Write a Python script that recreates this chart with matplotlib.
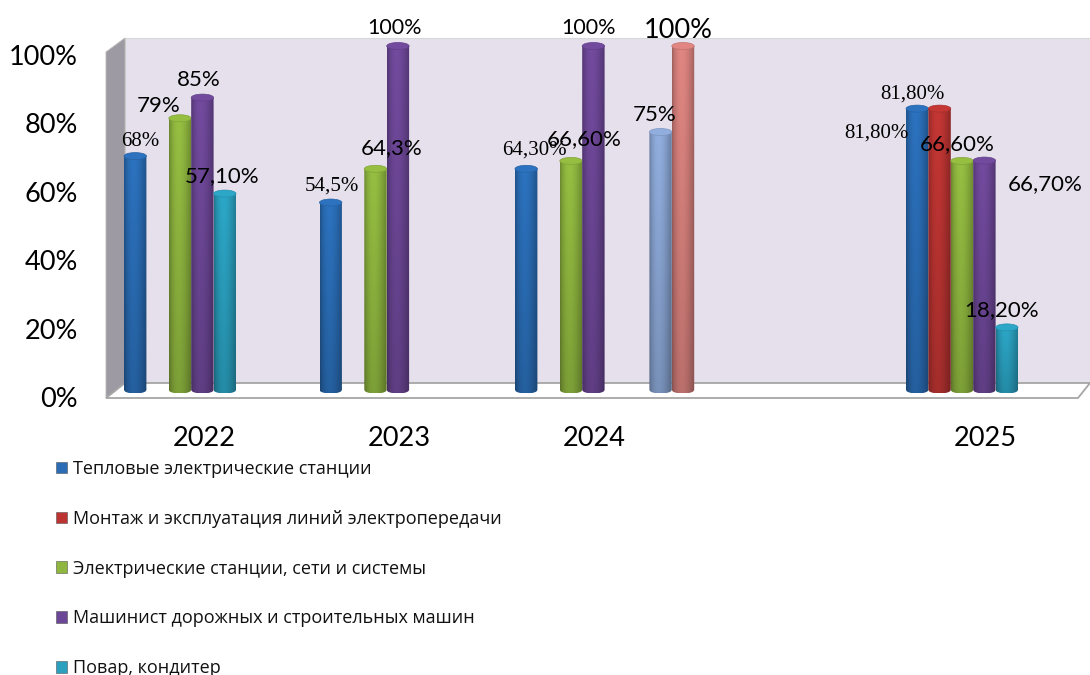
import numpy as np
import matplotlib
matplotlib.use('Agg')
import matplotlib.pyplot as plt
from matplotlib.patches import Ellipse, PathPatch, Polygon, Patch
from matplotlib.path import Path
from matplotlib.colors import to_rgb

W, H = 1090, 675

categories = ['2022', '2023', '2024', '', '2025']
y_ticks = [0, 20, 40, 60, 80, 100]

# one entry per series: category index, value, and slot inside the cluster
teplo_cat = [0, 1, 2, 4]
teplo_val = [68, 54.5, 64.3, 81.8]
montazh_cat = [4]
montazh_val = [81.8]
elektro_cat = [0, 1, 2, 4]
elektro_val = [79, 64.3, 66.6, 66.6]
mashin_cat = [0, 1, 2, 4]
mashin_val = [85, 100, 100, 66.7]
povar_cat = [0, 4]
povar_val = [57.1, 18.2]
extra1_cat = [2]
extra1_val = [75]
extra2_cat = [2]
extra2_val = [100]

legend_labels = ['Тепловые электрические станции',
                 'Монтаж и эксплуатация линий электропередачи',
                 'Электрические станции, сети и системы',
                 'Машинист дорожных и строительных машин',
                 'Повар, кондитер']

series = [(teplo_cat, teplo_val, -2, '#2a6db6'),
          (montazh_cat, montazh_val, -1, '#bb3432'),
          (elektro_cat, elektro_val, 0, '#8fb63f'),
          (mashin_cat, mashin_val, 1, '#6d4797'),
          (povar_cat, povar_val, 2, '#2a9fbe'),
          (extra1_cat, extra1_val, 4, '#8aa6d4'),
          (extra2_cat, extra2_val, 5, '#d6807c')]

# (text, x px, y px, font, size)
value_labels = [('68%', 140, 141, 'Liberation Serif', 15),
                ('79%', 159, 106, 'Lato', 16),
                ('85%', 199, 80, 'Lato', 16),
                ('57,10%', 222, 176, 'Lato', 16),
                ('54,5%', 332, 186, 'Liberation Serif', 15),
                ('64,3%', 392, 148, 'Lato', 16),
                ('100%', 395, 28, 'Lato', 15.5),
                ('64,30%', 534, 150, 'Liberation Serif', 15),
                ('66,60%', 584, 139, 'Lato', 16),
                ('100%', 589, 28, 'Lato', 15.5),
                ('75%', 655, 115, 'Lato', 16),
                ('100%', 678, 30, 'Lato', 19.5),
                ('81,80%', 912, 94, 'Liberation Serif', 15),
                ('81,80%', 876, 133, 'Liberation Serif', 15),
                ('66,60%', 957, 144, 'Lato', 16),
                ('66,70%', 1045, 184, 'Lato', 16),
                ('18,20%', 1002, 310, 'Lato', 16)]


def fx(x):
    return x / W


def fy(y):
    return 1 - y / H


fig = plt.figure(figsize=(W / 100, H / 100), dpi=100, facecolor='white')

# walls and floor of the 3D box
wall = Polygon([(fx(125), fy(38)), (fx(1090), fy(38)), (fx(1090), fy(383)), (fx(125), fy(383))],
               transform=fig.transFigure, fc='#e5e0ec', ec='#d8d8d8', lw=0.8, zorder=-5)
side = Polygon([(fx(106), fy(52)), (fx(125), fy(38)), (fx(125), fy(383)), (fx(106), fy(398))],
               transform=fig.transFigure, fc='#9d9aa3', ec='#b8b8b8', lw=0.6, zorder=-4)
floor = Polygon([(fx(106), fy(398)), (fx(125), fy(383)), (fx(1090), fy(383)), (fx(1078), fy(398))],
                transform=fig.transFigure, fc='white', ec='#a6a6a6', lw=1.3, zorder=-4)
fig.add_artist(wall)
fig.add_artist(side)
fig.add_artist(floor)

# front plane: only carries the tick labels
ax0 = fig.add_axes([fx(106), fy(397), fx(984), (397 - 55) / H])
ax0.patch.set_alpha(0)
ax0.set_ylim(0, 100)
ax0.set_xlim((106 - 204) / 195.2, (1090 - 204) / 195.2)
ax0.set_yticks(y_ticks)
ax0.set_yticklabels([f'{v}%' for v in y_ticks], fontsize=19.5, family='Lato', color='black')
ax0.set_xticks(range(len(categories)))
ax0.set_xticklabels(categories, fontsize=19.5, family='Lato', color='black')
ax0.tick_params(length=0, pad=21, axis='x')
ax0.tick_params(length=0, pad=20, axis='y')
for s in ax0.spines.values():
    s.set_visible(False)

# bars live on the back plane, axes a bit taller so the round caps are not cut
ax = fig.add_axes([fx(106), fy(400), fx(984), (400 - 36) / H])
ax.patch.set_alpha(0)
ax.axis('off')
x_min = (106 - 180) / 195.5
x_max = (1090 - 180) / 195.5
slot = 22.4 / 195.5
px_y = 100 / 344.0
cap = 3.5 * px_y


def cylinder(rect, color):
    x0, x1, top = rect.get_x(), rect.get_x() + rect.get_width(), rect.get_height()
    base = np.array(to_rgb(color))
    u = np.linspace(0, 1, 40)
    v = np.linspace(0, 1, 60)
    # light from the left third, dark at the edges
    shade = 0.74 + 0.29 * np.sin(np.pi * u ** 0.8) ** 1.0
    fall = 1.02 - 0.17 * v
    img = np.clip(base[None, None, :] * (shade[None, :] * fall[:, None])[:, :, None], 0, 1)
    im = ax.imshow(img, extent=[x0, x1, -cap, top], aspect='auto', zorder=rect.get_zorder(), interpolation='bilinear')
    xs = np.linspace(x0, x1, 30)
    mid = (x0 + x1) / 2
    half = (x1 - x0) / 2
    low = -cap * np.sqrt(np.clip(1 - ((xs - mid) / half) ** 2, 0, 1))
    verts = [(x0, top)] + list(zip(xs, low)) + [(x1, top), (x0, top)]
    body = PathPatch(Path(verts), transform=ax.transData, fc='none', ec='none')
    ax.add_patch(body)
    im.set_clip_path(body)
    ax.add_patch(Ellipse((mid, top), x1 - x0, cap * 2, fc=np.clip(base * 1.05, 0, 1), ec=base * 0.9, lw=0.5,
                         zorder=rect.get_zorder() + 0.1))


for z, (cats, vals, pos, color) in enumerate(series):
    xs = np.array(cats) + pos * slot
    bars = ax.bar(xs, vals, width=slot * 1.0, color=color, zorder=3 + z * 0.5)
    for r in bars:
        r.set_alpha(0)
        cylinder(r, color)

ax.set_xlim(x_min, x_max)
ax.set_ylim(-10 * px_y, 100 + 10 * px_y)

for txt, x, y, font, size in value_labels:
    fig.text(fx(x), fy(y), txt, family=font, fontsize=size, ha='center', va='center', color='black', zorder=10)

handles = [Patch(fc=c, ec='#555555', lw=0.4) for _, _, _, c in series[:5]]
fig.legend(handles, legend_labels, loc='upper left', bbox_to_anchor=(fx(56), fy(460)), frameon=False,
           prop={'family': 'Open Sans', 'size': 13}, labelspacing=1.76, handlelength=0.62, handleheight=0.62,
           handletextpad=0.32, borderpad=0, borderaxespad=0, labelcolor='#111111')

fig.savefig('out.png', dpi=100)
